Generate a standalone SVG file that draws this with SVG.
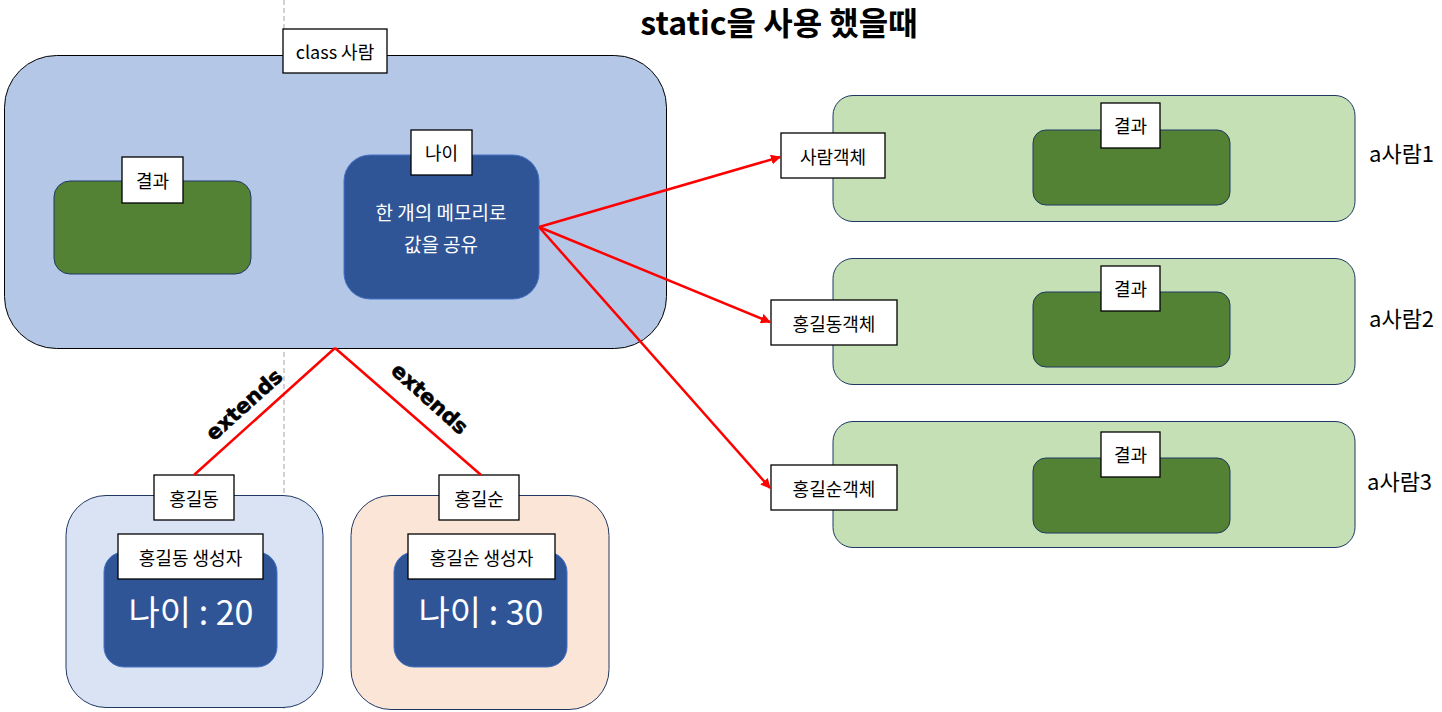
<svg xmlns="http://www.w3.org/2000/svg" width="1442" height="712" viewBox="0 0 1442 712">
<style>
text{font-family:"Noto Sans CJK KR","Noto Sans",sans-serif;}
.lbl{fill:#fff;stroke:#000;stroke-width:1.3;}
.lt{font-size:18px;fill:#000;text-anchor:middle;dominant-baseline:central;}
.res{fill:#548235;stroke:#1f3864;stroke-width:1;}
.obj{fill:#c5e0b4;stroke:#1f3864;stroke-width:1;}
.mem{fill:#2f5597;stroke:#4472c4;stroke-width:1;}
.wt{fill:#fff;text-anchor:middle;}
.red{stroke:#ff0000;stroke-width:2.5;fill:none;}
.ext{font-family:"DejaVu Sans","Liberation Sans",sans-serif;font-weight:900;font-size:21px;fill:#000;text-anchor:middle;stroke:#000;stroke-width:0.6;}
.side{font-size:22px;fill:#000;}
</style>
<defs>
<marker id="ah" viewBox="0 0 10 10" refX="9" refY="5" markerWidth="4" markerHeight="4" orient="auto" markerUnits="strokeWidth">
<path d="M0,0 L10,5 L0,10 z" fill="#ff0000"/>
</marker>
</defs>
<line x1="284" y1="0" x2="284" y2="712" stroke="#a6a6a6" stroke-width="1" stroke-dasharray="5,3"/>
<text x="779" y="35" font-size="32" font-weight="bold" text-anchor="middle" fill="#000">static을 사용 했을때</text>

<g id="class-saram">
<rect x="4.5" y="55.5" width="662" height="293" rx="52" fill="#b4c7e7" stroke="#000" stroke-width="1"/>
<rect class="lbl" x="283" y="29" width="104" height="44"/>
<text class="lt" x="335" y="51">class 사람</text>
</g>
<g id="result-main">
<rect class="res" x="54" y="181" width="197" height="93" rx="16"/>
<rect class="lbl" x="122" y="157" width="61" height="46"/>
<text class="lt" x="152.5" y="180">결과</text>
</g>
<g id="age-static">
<rect class="mem" x="344" y="155" width="195" height="144" rx="26"/>
<rect class="lbl" x="411" y="130" width="61" height="45"/>
<text class="lt" x="441.5" y="152">나이</text>
<text class="wt" x="441" y="220" font-size="19">한 개의 메모리로</text>
<text class="wt" x="441" y="252" font-size="19">값을 공유</text>
</g>

<g id="obj1">
<rect class="obj" x="833" y="95.5" width="522" height="126" rx="20"/>
<rect class="res" x="1033" y="130" width="197" height="75" rx="13"/>
<rect class="lbl" x="1101" y="103" width="59" height="45"/>
<text class="lt" x="1130.5" y="125">결과</text>
<rect class="lbl" x="781" y="133" width="104" height="45"/>
<text class="lt" x="833" y="155.5">사람객체</text>
<text class="side" x="1369" y="162">a사람1</text>
</g>
<g id="obj2">
<rect class="obj" x="833" y="258.5" width="522" height="126" rx="20"/>
<rect class="res" x="1033" y="292" width="197" height="75" rx="13"/>
<rect class="lbl" x="1101" y="266" width="59" height="45"/>
<text class="lt" x="1130.5" y="288">결과</text>
<rect class="lbl" x="771" y="300" width="126" height="45"/>
<text class="lt" x="834" y="322.5">홍길동객체</text>
<text class="side" x="1369" y="327">a사람2</text>
</g>
<g id="obj3">
<rect class="obj" x="833" y="421.5" width="522" height="126" rx="20"/>
<rect class="res" x="1033" y="458" width="197" height="75" rx="13"/>
<rect class="lbl" x="1101" y="432" width="59" height="45"/>
<text class="lt" x="1130.5" y="454">결과</text>
<rect class="lbl" x="771" y="465" width="126" height="45"/>
<text class="lt" x="834" y="487.5">홍길순객체</text>
<text class="side" x="1367" y="490">a사람3</text>
</g>

<g id="hong-gildong">
<rect x="66" y="495.5" width="257" height="212" rx="40" fill="#dae3f3" stroke="#1f3864" stroke-width="1"/>
<rect class="lbl" x="154" y="475" width="80" height="45"/>
<text class="lt" x="194" y="497.5">홍길동</text>
<rect class="mem" x="104" y="552" width="173" height="115" rx="20"/>
<rect class="lbl" x="118" y="534" width="145" height="45"/>
<text class="lt" x="190.5" y="556.5">홍길동 생성자</text>
<text class="wt" x="191" y="625" font-size="34">나이 : 20</text>
</g>
<g id="hong-gilsun">
<rect x="351" y="495.5" width="258" height="214" rx="40" fill="#fbe5d6" stroke="#1f3864" stroke-width="1"/>
<rect class="lbl" x="439" y="475" width="80" height="45"/>
<text class="lt" x="479" y="497.5">홍길순</text>
<rect class="mem" x="394" y="552" width="173" height="115" rx="20"/>
<rect class="lbl" x="408" y="534" width="147" height="45"/>
<text class="lt" x="481.5" y="556.5">홍길순 생성자</text>
<text class="wt" x="481" y="625" font-size="34">나이 : 30</text>
</g>

<g id="connectors">
<line class="red" x1="539" y1="227" x2="780" y2="157" marker-end="url(#ah)"/>
<line class="red" x1="539" y1="227" x2="770" y2="322" marker-end="url(#ah)"/>
<line class="red" x1="539" y1="227" x2="770" y2="488" marker-end="url(#ah)"/>
<line class="red" x1="335" y1="348" x2="194" y2="475"/>
<line class="red" x1="335" y1="348" x2="481" y2="475"/>
<text class="ext" transform="translate(249,410) rotate(-42)">extends</text>
<text class="ext" transform="translate(425,404) rotate(42)">extends</text>
</g>
</svg>
